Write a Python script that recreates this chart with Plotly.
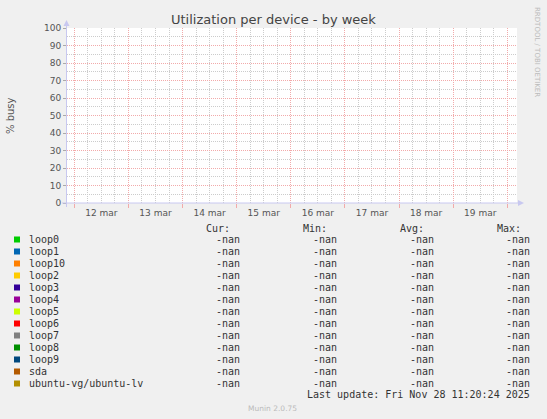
"""Munin disk utilization per device - weekly view"""

import plotly.graph_objects as go

# data: every device reports -nan for the whole week
devices = ['loop0', 'loop1', 'loop10', 'loop2', 'loop3', 'loop4', 'loop5',
           'loop6', 'loop7', 'loop8', 'loop9', 'sda', 'ubuntu-vg/ubuntu-lv']
device_colors = ['#00CC00', '#0066B3', '#FF8000', '#FFCC00', '#330099',
                 '#990099', '#CCFF00', '#FF0000', '#808080', '#008F00',
                 '#00487D', '#B35A00', '#B38F00']
cur_values = ['-nan'] * 13
min_values = ['-nan'] * 13
avg_values = ['-nan'] * 13
max_values = ['-nan'] * 13

sample_times = ['2025-03-12', '2025-03-13', '2025-03-14', '2025-03-15',
                '2025-03-16', '2025-03-17', '2025-03-18', '2025-03-19',
                '2025-03-20']
busy_values = [None] * 9

day_labels = ['12 mar', '13 mar', '14 mar', '15 mar',
              '16 mar', '17 mar', '18 mar', '19 mar']
day_label_times = ['2025-03-12 12:00', '2025-03-13 12:00', '2025-03-14 12:00',
                   '2025-03-15 12:00', '2025-03-16 12:00', '2025-03-17 12:00',
                   '2025-03-18 12:00', '2025-03-19 12:00']

x_range = ['2025-03-11 20:46', '2025-03-20 04:18']

W, H = 547, 419
L, R, T, B = 67, 517, 28, 203   # plot area in pixels

MONO = 'DejaVu Sans Mono'
SANS = 'DejaVu Sans'
TEXT = '#555555'
AXIS = '#C8C8F0'
MGRID = '#F2AAAA'
GRID = '#CCCCCC'


def px(x):
    return (x - L) / (R - L)


def py(y):
    return (B - y) / (B - T)


fig = go.Figure()
for name, color in zip(devices, device_colors):
    fig.add_trace(go.Scatter(x=sample_times, y=busy_values, mode='lines',
                             name=name, line=dict(color=color, width=1),
                             showlegend=False))
# carrier trace for the label axis
fig.add_trace(go.Scatter(x=sample_times, y=busy_values, xaxis='x2',
                         mode='lines', showlegend=False, hoverinfo='skip'))

annotations = [
    dict(text='Utilization per device - by week', x=px(273.5), y=py(19),
         font=dict(family=SANS, size=13, color='#444444')),
    dict(text='% busy', x=px(10), y=py(115), textangle=-90,
         font=dict(family=SANS, size=10, color=TEXT)),
    dict(text='RRDTOOL / TOBI OETIKER', x=px(537), y=py(52), textangle=90,
         font=dict(family=SANS, size=7, color='#BBBBBB')),
    dict(text='Munin 2.0.75', x=px(272.5), y=py(408),
         font=dict(family=SANS, size=7.5, color='#BBBBBB')),
    dict(text='Last update: Fri Nov 28 11:20:24 2025', x=px(532), y=py(395),
         xanchor='right', font=dict(family=MONO, size=10, color='#333333')),
]

headers = [('Cur:', 218), ('Min:', 315), ('Avg:', 412), ('Max:', 509)]
for label, cx in headers:
    annotations.append(dict(text=label, x=px(cx), y=py(228.3),
                            font=dict(family=MONO, size=10, color='#333333')))

shapes = []
for i, name in enumerate(devices):
    row_y = 239.5 + 12 * i
    shapes.append(dict(type='rect', xref='paper', yref='paper',
                       x0=px(14), x1=px(20), y0=py(row_y - 3), y1=py(row_y + 3),
                       fillcolor=device_colors[i], line=dict(width=0)))
    annotations.append(dict(text=name, x=px(27), y=py(row_y), xanchor='left',
                            font=dict(family=MONO, size=10, color='#333333')))
    for vals, right in [(cur_values, 242), (min_values, 339),
                        (avg_values, 436), (max_values, 532)]:
        annotations.append(dict(text=vals[i], x=px(right), y=py(row_y),
                                xanchor='right',
                                font=dict(family=MONO, size=10, color='#333333')))

for a in annotations:
    a.update(xref='paper', yref='paper', showarrow=False)
    a.setdefault('xanchor', 'center')
    a.setdefault('yanchor', 'middle')

# axis lines with arrow heads
shapes += [
    dict(type='line', xref='paper', yref='paper', x0=px(66.5), x1=px(66.5),
         y0=py(207), y1=py(24), line=dict(color=AXIS, width=1)),
    dict(type='line', xref='paper', yref='paper', x0=px(62), x1=px(519),
         y0=py(203), y1=py(203), line=dict(color=AXIS, width=1)),
    dict(type='path', xref='paper', yref='paper', fillcolor=AXIS,
         line=dict(width=0),
         path=f'M {px(63.5)} {py(26)} L {px(69.5)} {py(26)} L {px(66.5)} {py(20)} Z'),
    dict(type='path', xref='paper', yref='paper', fillcolor=AXIS,
         line=dict(width=0),
         path=f'M {px(518)} {py(200)} L {px(518)} {py(206)} L {px(524)} {py(203)} Z'),
]

fig.update_layout(
    width=W, height=H, autosize=False,
    margin=dict(l=L, r=W - R, t=T, b=H - B, pad=0),
    paper_bgcolor='#F0F0F0', plot_bgcolor='#FFFFFF',
    showlegend=False,
    xaxis=dict(type='date', range=x_range, tickmode='linear',
               tick0='2025-03-12', dtick=86400000, showticklabels=False,
               showgrid=True, gridcolor=MGRID, griddash='1px,1px', gridwidth=1,
               ticks='outside', ticklen=4, tickcolor=MGRID,
               minor=dict(tickmode='linear', tick0='2025-03-12',
                          dtick=21600000, showgrid=True, gridcolor=GRID,
                          griddash='1px,1px', gridwidth=1),
               zeroline=False, showline=False, fixedrange=True),
    xaxis2=dict(type='date', range=x_range, overlaying='x', side='bottom',
                anchor='y', tickmode='array', tickvals=day_label_times,
                ticktext=day_labels, showgrid=False, ticks='',
                tickfont=dict(family=SANS, size=9, color=TEXT),
                ticklabelstandoff=3, zeroline=False, showline=False),
    yaxis=dict(range=[0, 100], tickmode='linear', tick0=0, dtick=10,
               showgrid=True, gridcolor=MGRID, griddash='1px,1px', gridwidth=1,
               minor=dict(tickmode='linear', tick0=0, dtick=5, showgrid=True,
                          gridcolor=GRID, griddash='1px,1px', gridwidth=1),
               ticks='outside', ticklen=3, tickcolor='#AAAAAA',
               tickfont=dict(family=SANS, size=9, color=TEXT),
               zeroline=False, showline=False, fixedrange=True),
    annotations=annotations,
    shapes=shapes,
)

# drop the browser's default body margin so the figure sits at the top-left corner
fig.write_html("out.html", config={'displayModeBar': False},
               post_script="document.body.style.margin='0';")
